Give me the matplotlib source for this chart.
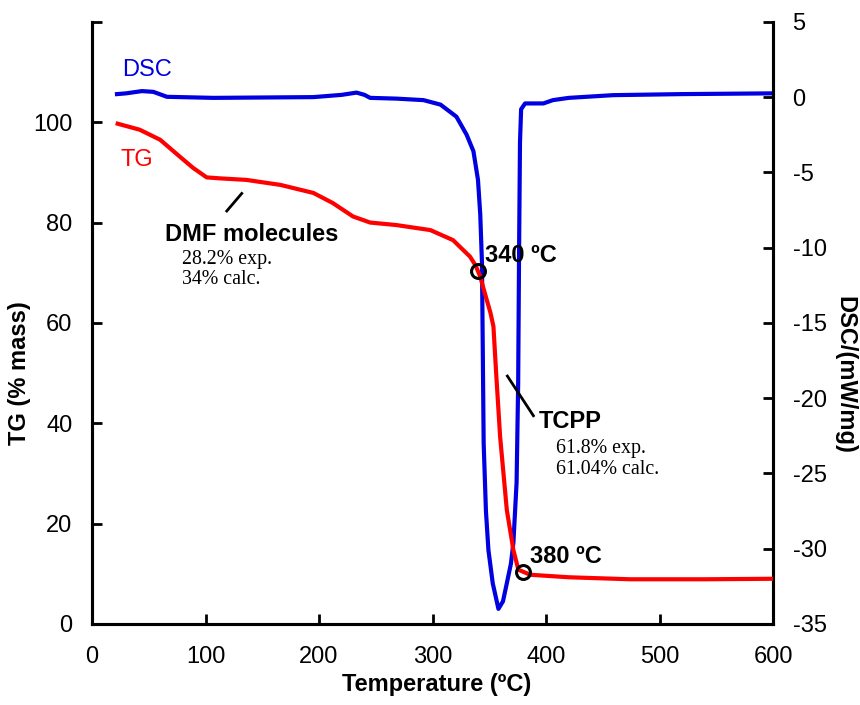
import matplotlib
matplotlib.use("Agg")
import matplotlib.pyplot as plt
import numpy as np

plt.rcParams['font.family'] = ['Liberation Sans', 'DejaVu Sans']
plt.rcParams['axes.unicode_minus'] = False

# TG curve (mass %) vs temperature
tg_temp = [22.6, 42, 60, 77.5, 89, 101, 113, 136, 166, 195, 212, 230, 245, 268,
           298, 318, 333, 338, 342, 344.8, 347.7, 351, 353.6, 356, 359.5, 365.4,
           371.2, 375.6, 386, 420, 474, 540, 600]
tg_mass = [99.7, 98.5, 96.5, 93.1, 90.9, 89.0, 88.8, 88.5, 87.5, 85.9, 83.9, 81.2,
           80.0, 79.5, 78.5, 76.5, 73.2, 71.4, 69.2, 66.9, 64.6, 62.0, 59.3, 50.0,
           37.3, 22.7, 14.7, 10.8, 9.8, 9.3, 8.9, 8.9, 9.0]

# DSC curve (mW/mg) vs temperature
dsc_temp = [22, 30, 44, 54, 66, 107, 195, 220, 233, 240, 245, 268, 292, 307, 321,
            330, 336, 340, 342, 343.5, 345, 347, 349.2, 353, 358, 362, 365.4,
            369, 371.2, 374, 375.4, 376.2, 377, 378, 381.5, 397.6, 406, 420, 459,
            520, 600]
dsc_val = [0.2, 0.25, 0.4, 0.35, 0.02, -0.05, 0.0, 0.15, 0.3, 0.15, -0.05, -0.1,
           -0.2, -0.5, -1.3, -2.5, -3.6, -5.5, -7.8, -11, -23, -27.5, -30.1,
           -32.3, -34, -33.5, -32.3, -31, -29.6, -25.6, -19, -10.2, -3, -0.8,
           -0.42, -0.42, -0.2, -0.05, 0.13, 0.2, 0.25]

# decomposition steps marked on the TG curve
step_temps = [340, 380]
step_labels = ['340 ºC', '380 ºC']

x_ticks = [0, 100, 200, 300, 400, 500, 600]
tg_ticks = [0, 20, 40, 60, 80, 100, 120]
tg_tick_labels = ['0', '20', '40', '60', '80', '100', '']
dsc_ticks = [5, 0, -5, -10, -15, -20, -25, -30, -35]

fig = plt.figure(figsize=(8.6, 7.05), dpi=100)
ax = fig.add_axes([0.107, 0.115, 0.792, 0.854])
ax2 = ax.twinx()

red = '#ff0000'
blue = '#0000e0'

ax.plot(tg_temp, tg_mass, color=red, lw=3, zorder=3, solid_joinstyle='round')
ax2.plot(dsc_temp, dsc_val, color=blue, lw=3, zorder=2, solid_joinstyle='round')

ax.set_xlim(0, 600)
ax.set_ylim(0, 120)
ax2.set_ylim(-35, 5)

ax.set_zorder(ax2.get_zorder() + 1)
ax.patch.set_visible(False)

for a in (ax, ax2):
    a.spines['top'].set_visible(False)
    for s in ('left', 'right', 'bottom'):
        a.spines[s].set_linewidth(2.2)

ax.set_xticks(x_ticks)
ax.set_yticks(tg_ticks)
ax.set_yticklabels(tg_tick_labels)
ax2.set_yticks(dsc_ticks)

ax.tick_params(axis='x', direction='in', length=7, width=2, labelsize=17, pad=16)
ax.tick_params(axis='y', direction='in', length=7, width=2, labelsize=17, pad=14)
ax2.tick_params(axis='y', direction='in', length=7, width=2, labelsize=17, pad=14)

ax.set_xlabel('Temperature (ºC)', fontsize=17, fontweight='bold')
ax.xaxis.set_label_coords(0.506, -0.082)
ax.set_ylabel('TG (% mass)', fontsize=17, fontweight='bold')
ax.yaxis.set_label_coords(-0.09, 0.417)
ax2.set_ylabel('DSC/(mW/mg)', fontsize=17, fontweight='bold', rotation=-90, va='center')
ax2.yaxis.set_label_coords(1.105, 0.414)

# curve names
ax.text(26.4, 110.4, 'DSC', color=blue, fontsize=17, va='center', ha='left')
ax.text(24.7, 92.5, 'TG', color=red, fontsize=17, va='center', ha='left')

# circled decomposition points
for t, lab in zip(step_temps, step_labels):
    m = np.interp(t, tg_temp, tg_mass)
    ax.plot(t, m, 'o', ms=10, mfc='none', mec='k', mew=2.2, zorder=5)
    ax.annotate(lab, (t, m), xytext=(5, 11), textcoords='offset points',
                fontsize=17, fontweight='bold', va='center', ha='left')

# DMF loss step
ax.plot([131.9, 118.7], [85.8, 82.3], color='k', lw=2)
ax.text(64.3, 77.7, 'DMF molecules', fontsize=17, fontweight='bold', va='center')
ax.text(79, 72.6, '28.2% exp.', fontsize=14.3, family='Liberation Serif', va='center')
ax.text(79, 68.6, '34% calc.', fontsize=14.3, family='Liberation Serif', va='center')

# TCPP loss step
ax.plot([365.9, 388.8], [49.4, 41.5], color='k', lw=2)
ax.text(393.3, 40.3, 'TCPP', fontsize=17, fontweight='bold', va='center')
ax.text(408.8, 35.0, '61.8% exp.', fontsize=14.3, family='Liberation Serif', va='center')
ax.text(408.8, 30.7, '61.04% calc.', fontsize=14.3, family='Liberation Serif', va='center')

fig.savefig('out.png', dpi=100)
